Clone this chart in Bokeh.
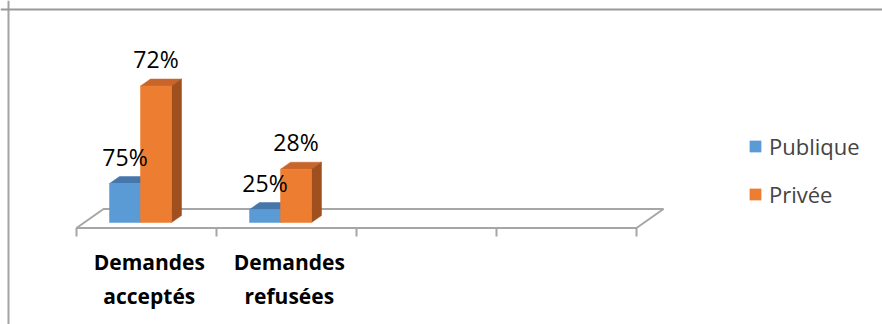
from bokeh.plotting import figure
from bokeh.models import Range1d, Legend, LegendItem, Span
from bokeh.core.properties import value
from bokeh.embed import file_html
from bokeh.resources import INLINE

# ---------------- data ----------------
categories = ["Demandes acceptés", "Demandes refusées"]
series_names = ["Publique", "Privée"]
publique_values = [3.0, 1.0]      # bar heights (relative units)
privee_values = [10.5, 4.1]
publique_labels = ["75%", "25%"]
privee_labels = ["72%", "28%"]
n_slots = 4                       # category slots on the axis floor

# ---------------- layout / style ----------------
W, H = 882, 324
X0_PX, SLOT_PX = 76, 140          # x pixel of slot 0, pixel width per slot
BASE_PX, UNIT_PX = 222, 13        # pixel of value 0, pixels per unit
FONT = "Open Sans"
TXT_SHIFT = 9                     # compensation for baseline rendering

def dx(px):
    return px / SLOT_PX

def dy(px):
    return px / UNIT_PX

def xpx(px):
    return (px - X0_PX) / SLOT_PX

def ypx(px):
    return (BASE_PX - px) / UNIT_PX

p = figure(width=W, height=H, output_backend="svg", toolbar_location=None,
           x_range=Range1d(xpx(0), xpx(W)), y_range=Range1d(ypx(H), ypx(0)))
p.min_border_left = 0
p.min_border_top = 0
p.min_border_right = 0
p.min_border_bottom = 0
p.xaxis.visible = False
p.yaxis.visible = False
p.grid.visible = False
p.outline_line_color = None
p.background_fill_color = "white"
p.border_fill_color = "white"

# chart-area border (top and left edges visible)
p.add_layout(Span(location=xpx(8), dimension="height", line_color="#a3a3a3", line_width=2))
p.add_layout(Span(location=ypx(9), dimension="width", line_color="#999999", line_width=2))

# floor
floor_front, floor_back = ypx(227.5), ypx(208.5)
fdx = dx(27)
p.patch([0, n_slots, n_slots + fdx, fdx], [floor_front, floor_front, floor_back, floor_back],
        fill_color="white", line_color="#a6a6a6", line_width=2)
# ticks
p.segment(x0=list(range(n_slots + 1)), y0=[floor_front] * (n_slots + 1),
          x1=list(range(n_slots + 1)), y1=[ypx(236)] * (n_slots + 1),
          line_color="#a6a6a6", line_width=2)

# bars
bdx, bdy = dx(10), dy(7)
bar_w = dx(31)
offsets = [dx(33), dx(64)]
colors = [("#5b9bd5", "#4677ab", "#3e6d9b"), ("#ed7d31", "#c8652a", "#a04f1e")]
front_renderers = [None, None]
all_vals = [publique_values, privee_values]
for i in range(len(categories)):
    for s in range(2):
        v = all_vals[s][i]
        l = i + offsets[s]
        r = l + bar_w
        front_c, top_c, side_c = colors[s]
        p.patch([l, r, r + bdx, l + bdx], [v, v, v + bdy, v + bdy],
                fill_color=top_c, line_color=top_c, line_width=0.5)
        p.patch([r, r, r + bdx, r + bdx], [0, v, v + bdy, bdy],
                fill_color=side_c, line_color=side_c, line_width=0.5)
        rr = p.quad(left=[l], right=[r], bottom=[0], top=[v],
                    fill_color=front_c, line_color=front_c, line_width=0.5)
        if front_renderers[s] is None:
            front_renderers[s] = rr

# value labels
lab_x, lab_y, lab_t = [], [], []
for s, (vals, labs) in enumerate([(publique_values, publique_labels), (privee_values, privee_labels)]):
    for i in range(len(categories)):
        lab_x.append(i + offsets[s] + bar_w / 2)
        lab_y.append(vals[i] + dy(18 + TXT_SHIFT))
        lab_t.append(labs[i])
p.text(x=lab_x, y=lab_y, text=lab_t, text_align="center", text_baseline="alphabetic",
       text_font=value(FONT), text_font_size="23px", text_color="#000000")

# category labels (two lines)
cx = [i + 0.52 for i in range(len(categories))]
line1 = [c.split(" ", 1)[0] for c in categories]
line2 = [c.split(" ", 1)[1] for c in categories]
p.text(x=cx, y=[ypx(270 - TXT_SHIFT)] * len(cx), text=line1, text_align="center", text_baseline="alphabetic",
       text_font=value(FONT), text_font_style="bold", text_font_size="21px", text_color="#000000")
p.text(x=cx, y=[ypx(303 - 8)] * len(cx), text=line2, text_align="center", text_baseline="alphabetic",
       text_font=value(FONT), text_font_style="bold", text_font_size="21px", text_color="#000000")

legend = Legend(items=[LegendItem(label=series_names[k], renderers=[front_renderers[k]]) for k in range(2)],
                location=(748, 115), glyph_width=14, glyph_height=14, label_standoff=7,
                label_text_font=FONT, label_text_font_size="22px", spacing=18,
                padding=0, margin=0, border_line_alpha=0, background_fill_alpha=0)
p.add_layout(legend)

open("out.html", "w").write(file_html(p, INLINE))
